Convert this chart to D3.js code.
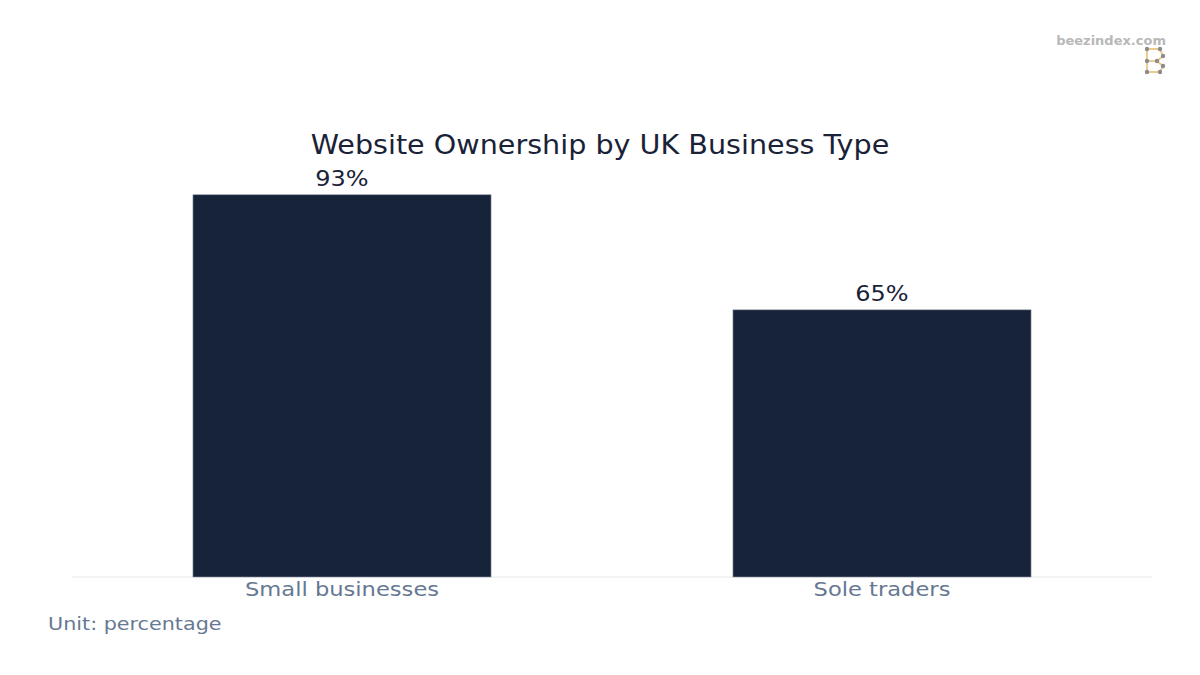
<!doctype html>
<html lang="en">
<head>
    <meta charset="UTF-8">
    <script src="https://cdnjs.cloudflare.com/ajax/libs/d3/7.0.0/d3.min.js"></script>
    <title>Website Ownership by UK Business Type</title>
    <style>
        body { margin: 0; background: #fff; }
        text { font-family: "DejaVu Sans", Verdana, sans-serif; }
    </style>
</head>
<body>

<div id="viz_area"></div>

<script>
    const categories = ["Small businesses", "Sole traders"];
    const values = [93, 65];
    const valueLabels = ["93%", "65%"];

    const W = 1200, H = 675;
    const plot = {left: 72, right: 1152, top: 166, bottom: 577};

    const svg = d3.select('#viz_area')
        .append("svg")
        .attr("width", W)
        .attr("height", H);

    // the reference text looks a bit wide, so stretch glyphs horizontally
    function widen(sel, k) {
        sel.each(function() {
            const len = this.getComputedTextLength();
            d3.select(this)
                .attr("textLength", len * k)
                .attr("lengthAdjust", "spacingAndGlyphs");
        });
    }

    const x = d3.scaleBand()
        .domain(categories)
        .range([plot.left, plot.right])
        .paddingInner(0.448)
        .paddingOuter(0.224);

    const y = d3.scaleLinear()
        .domain([0, 100])
        .range([plot.bottom, plot.top]);

    // faint zero line
    svg.append("line")
        .attr("x1", plot.left).attr("x2", plot.right)
        .attr("y1", y(0)).attr("y2", y(0))
        .attr("stroke", "#f3f3f3")
        .attr("stroke-width", 2);

    svg.selectAll("rect.bar")
        .data(values)
        .join("rect")
        .attr("class", "bar")
        .attr("x", (d, i) => x(categories[i]))
        .attr("width", x.bandwidth())
        .attr("y", d => y(d))
        .attr("height", d => y(0) - y(d))
        .attr("fill", "#172339")
        .attr("stroke", "#8a93a3")
        .attr("stroke-width", 0.6);

    svg.selectAll("text.val")
        .data(values)
        .join("text")
        .attr("class", "val")
        .attr("x", (d, i) => x(categories[i]) + x.bandwidth() / 2)
        .attr("y", d => y(d) - 9)
        .attr("text-anchor", "middle")
        .attr("font-size", 20.5)
        .attr("fill", "#1a2238")
        .text((d, i) => valueLabels[i])
        .call(widen, 1.17);

    // x axis labels
    const xAxis = d3.axisBottom(x).tickSize(0).tickPadding(0);
    const gx = svg.append("g")
        .attr("transform", `translate(0,${plot.bottom})`)
        .call(xAxis);
    gx.select(".domain").remove();
    gx.selectAll("text")
        .attr("dy", "19px")
        .attr("font-size", 20)
        .attr("font-family", '"DejaVu Sans", sans-serif')
        .attr("fill", "#667892")
        .call(widen, 1.13);

    svg.append("text")
        .attr("x", 600)
        .attr("y", 154)
        .attr("text-anchor", "middle")
        .attr("font-size", 26)
        .attr("fill", "#1a2238")
        .text("Website Ownership by UK Business Type")
        .call(widen, 1.10);

    svg.append("text")
        .attr("x", 48)
        .attr("y", 630)
        .attr("font-size", 18)
        .attr("fill", "#667892")
        .text("Unit: percentage")
        .call(widen, 1.15);

    // watermark
    svg.append("text")
        .attr("x", 1166)
        .attr("y", 45)
        .attr("text-anchor", "end")
        .attr("font-size", 13)
        .attr("font-weight", "bold")
        .attr("fill", "#b8b8b8")
        .text("beezindex.com");

    const logo = [[1147,49],[1160,49],[1163,56],[1157,61],[1163,66],[1160,72],[1147,72]];
    const lg = svg.append("g");
    lg.append("path")
        .attr("d", d3.line()(logo.concat([[1147,49]])))
        .attr("fill", "none")
        .attr("stroke", "#eccb8f")
        .attr("stroke-width", 2);
    lg.append("line")
        .attr("x1", 1147).attr("y1", 61).attr("x2", 1157).attr("y2", 61)
        .attr("stroke", "#eccb8f").attr("stroke-width", 2);
    lg.selectAll("circle")
        .data(logo.concat([[1147,61]]))
        .join("circle")
        .attr("cx", d => d[0]).attr("cy", d => d[1])
        .attr("r", 2.2)
        .attr("fill", "#8c8c8c");
</script>
</body>
</html>
